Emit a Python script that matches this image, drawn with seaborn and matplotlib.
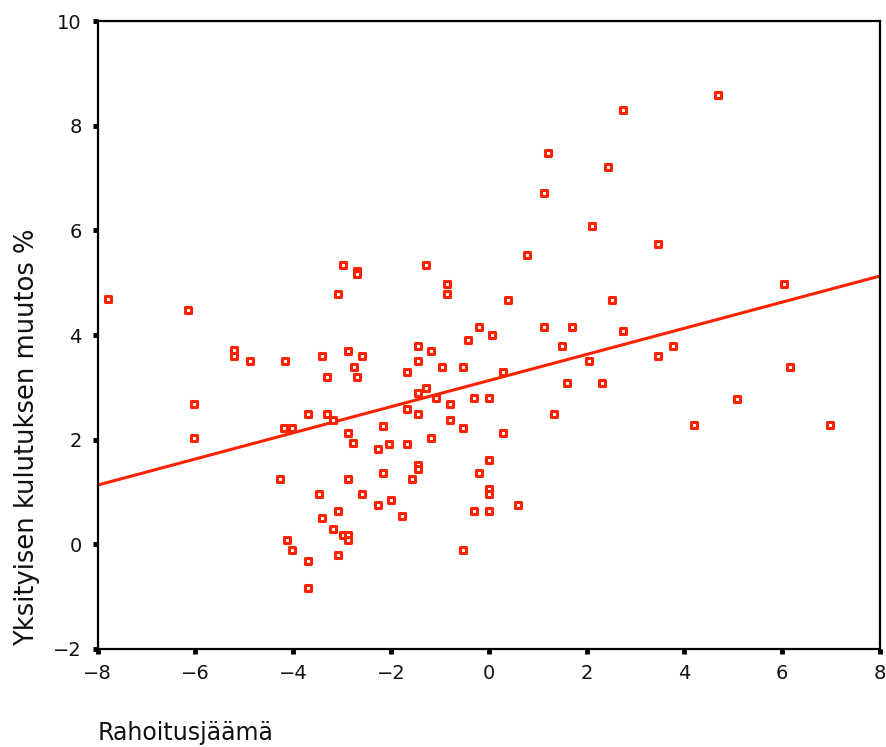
import matplotlib
matplotlib.use("Agg")
import matplotlib.pyplot as plt
import seaborn as sns
import numpy as np
import pandas as pd

# Data
rahoitusjaama = [
    -7.79, -6.15, -6.03, -6.03, -5.21, -5.21, -4.88, -4.27, -4.17, -4.19,
    -4.02, -4.12, -4.02, -3.70, -3.70, -3.70, -3.47, -3.41, -3.41, -3.31,
    -3.31, -3.18, -3.18, -3.08, -3.08, -3.08, -2.98, -2.98, -2.88, -2.88,
    -2.88, -2.88, -2.88, -2.77, -2.75, -2.69, -2.69, -2.69, -2.59, -2.59,
    -2.26, -2.26, -2.16, -2.16, -2.04, -2.00, -1.77, -1.67, -1.67, -1.67,
    -1.57, -1.44, -1.44, -1.44, -1.44, -1.44, -1.44, -1.28, -1.28, -1.18,
    -1.18, -1.07, -0.95, -0.85, -0.85, -0.79, -0.79, -0.52, -0.52, -0.52,
    -0.42, -0.30, -0.30, -0.19, -0.19, 0.01, 0.01, 0.01, 0.01, 0.01,
    0.07, 0.30, 0.30, 0.40, 0.60, 0.79, 1.12, 1.12, 1.22, 1.34,
    1.50, 1.61, 1.71, 2.06, 2.12, 2.32, 2.43, 2.53, 2.75, 2.75,
    3.47, 3.47, 3.76, 4.19, 4.68, 5.07, 6.03, 6.15, 6.97,
]
kulutus_muutos = [
    4.69, 4.48, 2.68, 2.03, 3.71, 3.60, 3.50, 1.25, 3.50, 2.22,
    2.22, 0.08, -0.11, 2.49, -0.32, -0.83, 0.96, 3.60, 0.50, 3.20,
    2.49, 2.38, 0.29, 4.78, 0.64, -0.20, 5.34, 0.18, 3.69, 2.13,
    1.25, 0.18, 0.08, 1.94, 3.39, 5.23, 5.16, 3.20, 3.60, 0.96,
    1.82, 0.75, 2.26, 1.36, 1.92, 0.85, 0.54, 3.30, 2.59, 1.92,
    1.25, 3.79, 3.50, 2.89, 2.49, 1.52, 1.44, 5.34, 2.99, 3.69,
    2.03, 2.80, 3.39, 4.97, 4.78, 2.68, 2.38, 3.39, 2.22, -0.11,
    3.90, 2.80, 0.64, 4.15, 1.36, 2.80, 1.61, 1.06, 0.96, 0.64,
    4.00, 3.30, 2.13, 4.67, 0.75, 5.53, 6.71, 4.15, 7.48, 2.49,
    3.79, 3.08, 4.15, 3.50, 6.08, 3.08, 7.21, 4.67, 8.30, 4.08,
    5.74, 3.60, 3.79, 2.28, 8.58, 2.78, 4.97, 3.39, 2.28,
]
x_ticks = [-8, -6, -4, -2, 0, 2, 4, 6, 8]
y_ticks = [-2, 0, 2, 4, 6, 8, 10]

df = pd.DataFrame({"Rahoitusjäämä": rahoitusjaama,
                   "Yksityisen kulutuksen muutos %": kulutus_muutos})

RED = "#ff2200"

sns.set_style("white")
plt.rcParams["font.family"] = ["DejaVu Sans"]

fig = plt.figure(figsize=(8.86, 7.47), dpi=100)
ax = fig.add_axes([97.5 / 886, 1 - 649 / 747, 782.5 / 886, 628 / 747])
ax.set_xlim(-8, 8)
ax.set_ylim(-2, 10)

sns.regplot(data=df, x="Rahoitusjäämä", y="Yksityisen kulutuksen muutos %",
            ax=ax, ci=None, truncate=False, marker="s", color=RED,
            scatter_kws=dict(s=14, facecolors="white", edgecolors=RED,
                             linewidths=2.2, alpha=1, zorder=3),
            line_kws=dict(color=RED, lw=2.2, zorder=2))

ax.set_xlim(-8, 8)
ax.set_ylim(-2, 10)
ax.set_xticks(x_ticks)
ax.set_yticks(y_ticks)
ax.set_xticklabels([f"\u2212{abs(v)}" if v < 0 else str(v) for v in x_ticks])
ax.set_yticklabels([f"\u2212{abs(v)}" if v < 0 else str(v) for v in y_ticks])

for sp in ax.spines.values():
    sp.set_visible(True)
    sp.set_color("black")
    sp.set_linewidth(1.6)

ax.tick_params(axis="both", which="major", direction="out", length=3.5,
               width=3.5, color="black", labelsize=14, labelcolor="#111111",
               bottom=True, left=True, top=False, right=False)
ax.tick_params(axis="x", pad=7)
ax.tick_params(axis="y", pad=8)

ax.set_xlabel("Rahoitusjäämä", loc="left", fontsize=17, color="#111111")
ax.xaxis.set_label_coords(0.0, -0.115)
ax.set_ylabel("Yksityisen kulutuksen muutos %", loc="bottom", fontsize=18.5,
              color="#111111")
ax.yaxis.set_label_coords(-0.074, 0.005)

fig.savefig("out.png", dpi=100, facecolor="white")
